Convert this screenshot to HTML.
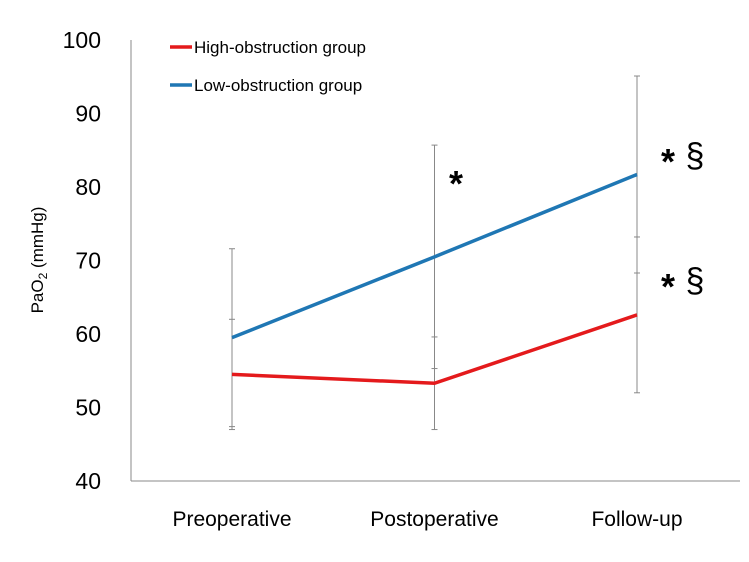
<!DOCTYPE html>
<html><head><meta charset="utf-8"><style>body{margin:0;background:#fff}svg{display:block;font-family:"Liberation Sans",sans-serif}</style></head>
<body>
<svg id="c" width="749" height="562"></svg>
<script>
const categories=["Preoperative","Postoperative","Follow-up"];
const highValues=[54.5,53.3,62.6];
const highErr=[7.5,6.3,10.6];
const lowValues=[59.5,70.5,81.7];
const lowErr=[12.1,15.2,13.4];
const yTicks=[40,50,60,70,80,90,100];
const NS="http://www.w3.org/2000/svg";
const svg=document.getElementById('c');
const y=v=>481-(v-40)*7.35;
const x=i=>232+i*202.5;
function mk(t,a,txt){const e=document.createElementNS(NS,t);for(const k in a)e.setAttribute(k,a[k]);if(txt!=null)e.textContent=txt;svg.appendChild(e);return e;}
let e=mk('line',{x1:131,y1:40,x2:131,y2:481,stroke:'#888','stroke-width':1});


e=mk('line',{x1:131,y1:481,x2:740,y2:481,stroke:'#888','stroke-width':1});


yTicks.forEach(v=>{const t=mk('text',{x:101,y:y(v)+8,'text-anchor':'end','font-size':23,fill:'#000'},v);

});
categories.forEach((c,i)=>{const t=mk('text',{x:x(i),y:526,'text-anchor':'middle','font-size':21,fill:'#000'},c);

});
const yt=mk('text',{transform:'translate(43,260) rotate(-90)','text-anchor':'middle','font-size':17,fill:'#000'});


yt.innerHTML='PaO<tspan font-size="12" dy="4">2</tspan><tspan dy="-4"> (mmHg)</tspan>';
function errs(vals,errv,name){vals.forEach((v,i)=>{const g=mk('g',{stroke:'#888','stroke-width':1});


const a=y(v+errv[i]),b=y(v-errv[i]);
[['line',{x1:x(i),y1:a,x2:x(i),y2:b}],['line',{x1:x(i)-3,y1:a,x2:x(i)+3,y2:a}],['line',{x1:x(i)-3,y1:b,x2:x(i)+3,y2:b}]].forEach(([t,at])=>{const l=document.createElementNS(NS,t);for(const k in at)l.setAttribute(k,at[k]);g.appendChild(l);});});}
errs(lowValues,lowErr,'low');errs(highValues,highErr,'high');
function line(vals,col,name){const p=mk('polyline',{points:vals.map((v,i)=>x(i)+','+y(v)).join(' '),fill:'none',stroke:col,'stroke-width':3.5});

}
line(highValues,'#e41a1c','high-obstruction-line');
line(lowValues,'#1f77b4','low-obstruction-line');
[[170,47,'#e41a1c','High-obstruction group','legend-high'],[170,85,'#1f77b4','Low-obstruction group','legend-low']].forEach(([lx,ly,c,t,n])=>{
const l=mk('line',{x1:lx,y1:ly,x2:lx+22,y2:ly,stroke:c,'stroke-width':3.5});


const tx=mk('text',{x:lx+24,y:ly+6,'font-size':17,fill:'#000'},t);

});
[[456,196,'postop-asterisk'],[668,174,'followup-low-asterisk'],[668,299,'followup-high-asterisk']].forEach(([ax,ay,n])=>{
const s=mk('text',{x:ax,y:ay,'font-size':36,'font-weight':'bold','text-anchor':'middle',fill:'#000'},'*');

});
[[695,167,'followup-low-section'],[695,292,'followup-high-section']].forEach(([ax,ay,n])=>{
const s=mk('text',{x:ax,y:ay,'font-size':34,'text-anchor':'middle',fill:'#000'},'§');

});
</script>
</body></html>
